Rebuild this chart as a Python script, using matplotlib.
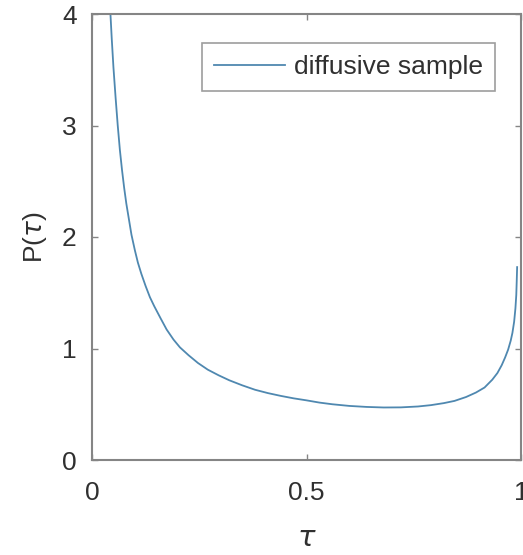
import matplotlib
matplotlib.use("Agg")
import matplotlib.pyplot as plt

tau = [0.043, 0.046, 0.050, 0.055, 0.060, 0.065, 0.070, 0.075, 0.080, 0.086,
       0.092, 0.100, 0.107, 0.115, 0.125, 0.135, 0.145, 0.160, 0.174, 0.190,
       0.205, 0.225, 0.247, 0.270, 0.295, 0.320, 0.350, 0.380, 0.410, 0.440,
       0.470, 0.500, 0.530, 0.560, 0.600, 0.640, 0.680, 0.720, 0.760, 0.790,
       0.820, 0.845, 0.872, 0.895, 0.915, 0.933, 0.945, 0.955, 0.963, 0.970,
       0.976, 0.980, 0.984, 0.987, 0.989, 0.990, 0.991]
P = [4.00, 3.78, 3.52, 3.25, 3.00, 2.78, 2.60, 2.44, 2.30, 2.16,
     2.02, 1.88, 1.77, 1.67, 1.56, 1.46, 1.38, 1.27, 1.17, 1.08,
     1.01, 0.94, 0.87, 0.81, 0.76, 0.715, 0.67, 0.63, 0.60, 0.575,
     0.553, 0.535, 0.515, 0.500, 0.485, 0.476, 0.471, 0.472, 0.480, 0.492,
     0.510, 0.530, 0.565, 0.605, 0.650, 0.72, 0.78, 0.85, 0.92, 0.99,
     1.07, 1.14, 1.24, 1.36, 1.48, 1.60, 1.73]
series_label = "diffusive sample"
xticks = [0, 0.5, 1]
xticklabels = ["0", "0.5", "1"]
yticks = [0, 1, 2, 3, 4]
yticklabels = ["0", "1", "2", "3", "4"]

plt.rcParams['font.family'] = ['Liberation Sans', 'DejaVu Sans']

fig = plt.figure(figsize=(5.23, 5.55), dpi=100)
ax = fig.add_axes([92/523, 1-460/555, 429/523, 446/555])

ax.plot(tau, P, color='#4f88b0', lw=1.3, label=series_label)

ax.set_xlim(0, 1)
ax.set_ylim(0, 4)
ax.set_xticks(xticks)
ax.set_xticklabels(xticklabels)
ax.set_yticks(yticks)
ax.set_yticklabels(yticklabels)

for s in ax.spines.values():
    s.set_color('#858585')
    s.set_linewidth(1.5)

ax.tick_params(axis='both', direction='in', length=4, width=1, color='#858585',
               labelsize=19, labelcolor='#303030', top=True, right=True)
ax.tick_params(axis='x', pad=15)
ax.tick_params(axis='y', pad=11)

ax.set_xlabel(r'$\tau$', fontsize=21, color='#303030', labelpad=14)
ax.set_ylabel(r'P($\tau$)', fontsize=19, color='#303030', labelpad=9)

leg = ax.legend(loc='upper right', bbox_to_anchor=(0.940, 0.935), borderaxespad=0,
                fancybox=False, edgecolor='#858585', fontsize=19, handlelength=2.7,
                borderpad=0.45, handletextpad=0.35, labelcolor='#303030')
leg.get_frame().set_linewidth(1.2)

fig.savefig('out.png', dpi=100)
